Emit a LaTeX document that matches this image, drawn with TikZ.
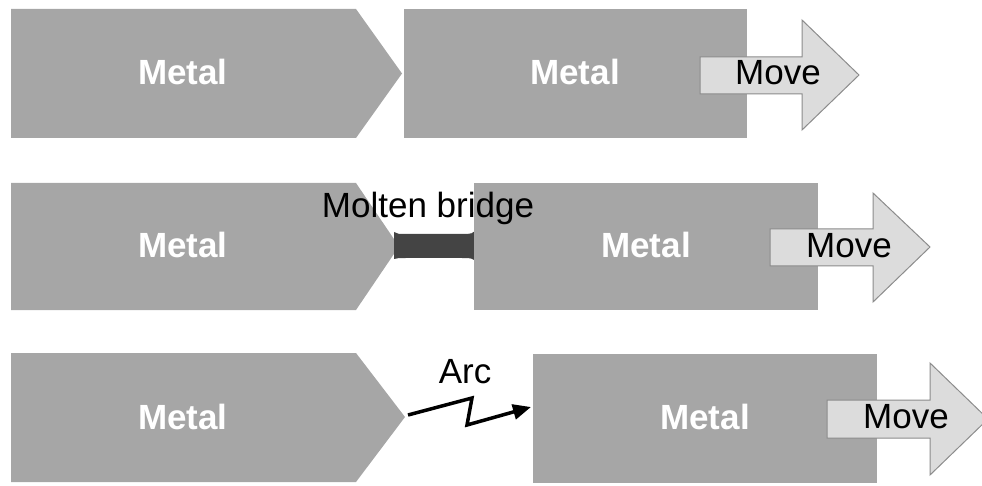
\documentclass[tikz,border=0pt]{standalone}
\usepackage{fontspec}
\setmainfont{Liberation Sans}
\usetikzlibrary{arrows.meta}
\definecolor{metalgray}{HTML}{A6A6A6}
\definecolor{movefill}{HTML}{DCDCDC}
\definecolor{moveline}{HTML}{8C8C8C}
\definecolor{bridgegray}{HTML}{444444}
\begin{document}
\begin{tikzpicture}[x=1pt,y=-1pt,
  metal/.style={fill=metalgray},
  metaltext/.style={text=white,inner sep=0pt,anchor=base,font=\fontsize{35}{40}\selectfont\bfseries},
  lbl/.style={text=black,inner sep=0pt,anchor=base,font=\fontsize{35}{40}\selectfont},
  movearrow/.style={fill=movefill,draw=moveline,line width=1pt,line join=miter},
  arcline/.style={line width=3.5pt,line join=miter,-{Triangle[length=18pt,width=15pt]}}]
\useasboundingbox (0,0) rectangle (982,486);
% ---- row 1
\fill[metal] (11,9) -- (356,9) -- (402,73.5) -- (356,138) -- (11,138) -- cycle;
\fill[metal] (404,9) rectangle (747,138);
\filldraw[movearrow] (700,57) -- (802,57) -- (802,20) -- (859,75) -- (802,130) -- (802,94) -- (700,94) -- cycle;
\node[metaltext] (m1l) at (183,85) {Metal};
\node[metaltext] (m1r) at (575,85) {Metal};
\node[lbl] (mv1) at (778,85) {Move};
% ---- row 2
\fill[metal] (11,183) -- (356,183) -- (399,246.5) -- (356,310) -- (11,310) -- cycle;
\fill[bridgegray] (394,232) .. controls (398,234) .. (406,234) -- (462,234) .. controls (472,234) .. (478,228)
  -- (478,263) .. controls (472,258) .. (462,258) -- (406,258) .. controls (398,258) .. (394,259) -- cycle;
\fill[metal] (474,183) rectangle (818,310);
\filldraw[movearrow] (770,229) -- (873,229) -- (873,193) -- (930,247) -- (873,302) -- (873,266) -- (770,266) -- cycle;
\node[metaltext] (m2l) at (183,258) {Metal};
\node[metaltext] (m2r) at (646,258) {Metal};
\node[lbl] (mv2) at (849,258) {Move};
\node[lbl] (molten) at (428,218) {Molten bridge};
% ---- row 3
\fill[metal] (11,353) -- (356,353) -- (405,417) -- (356,482) -- (11,482) -- cycle;
\fill[metal] (533,354) rectangle (877,483);
\filldraw[movearrow] (827,400) -- (930,400) -- (930,363) -- (988,419) -- (930,475) -- (930,438) -- (827,438) -- cycle;
\node[metaltext] (m3l) at (183,429) {Metal};
\node[metaltext] (m3r) at (705,429) {Metal};
\node[lbl] (mv3) at (906,428) {Move};
\node[lbl] (arc) at (465,383) {Arc};
\coordinate (tip3) at (408,415);
\coordinate (rect3w) at (531,407);
\draw[arcline] (tip3) -- (472,398) -- (467,425) -- (rect3w);
\end{tikzpicture}
\end{document}
